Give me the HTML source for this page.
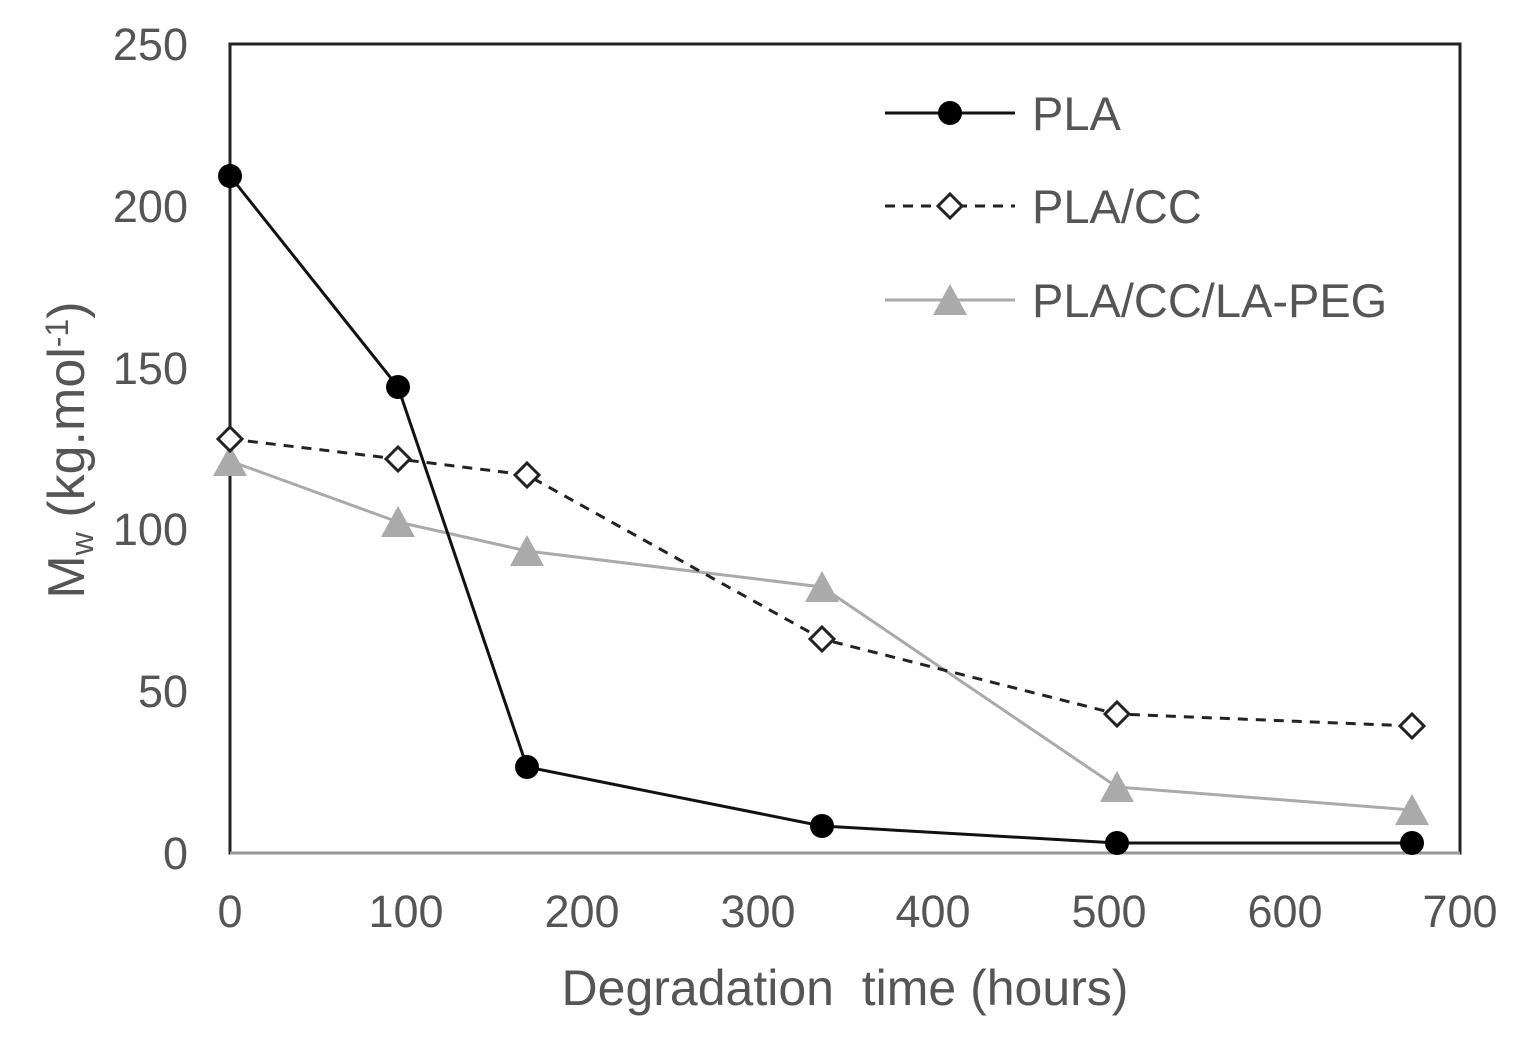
<!DOCTYPE html>
<html><head><meta charset="utf-8"><style>
html,body{margin:0;padding:0;background:#fff;}
svg{display:block;}
text{font-family:"Liberation Sans",sans-serif;fill:#555;}
</style></head><body>
<svg width="1524" height="1040" viewBox="0 0 1524 1040" xmlns="http://www.w3.org/2000/svg">
<rect x="230" y="44" width="1230" height="809" fill="none" stroke="#222" stroke-width="3"/>
<line x1="230" y1="853" x2="1460" y2="853" stroke="#999" stroke-width="3"/>
<g font-size="45" text-anchor="end">
<text x="188" y="60">250</text>
<text x="188" y="222">200</text>
<text x="188" y="384">150</text>
<text x="188" y="545">100</text>
<text x="188" y="707">50</text>
<text x="188" y="869">0</text>
</g>
<g font-size="45" text-anchor="middle">
<text x="230" y="927">0</text>
<text x="406" y="927">100</text>
<text x="582" y="927">200</text>
<text x="758" y="927">300</text>
<text x="933" y="927">400</text>
<text x="1109" y="927">500</text>
<text x="1285" y="927">600</text>
<text x="1460" y="927">700</text>
</g>
<text x="845" y="1005" font-size="50" text-anchor="middle" xml:space="preserve" style="white-space:pre">Degradation  time (hours)</text>
<text transform="translate(84,450) rotate(-90)" font-size="52" text-anchor="middle">M<tspan font-size="32" dy="9">w</tspan><tspan dy="-9"> (kg.mol</tspan><tspan font-size="32" dy="-16">-1</tspan><tspan dy="16">)</tspan></text>
<polyline points="230,461 398,522 527,551 822,587 1117,787 1412,810" fill="none" stroke="#aaa" stroke-width="3"/>
<g fill="#aaa">
<polygon points="230,445 247,476 213,476"/><polygon points="398,506 415,537 381,537"/><polygon points="527,535 544,566 510,566"/><polygon points="822,571 839,602 805,602"/><polygon points="1117,771 1134,802 1100,802"/><polygon points="1412,794 1429,825 1395,825"/>
</g>
<polyline points="230,439 398,459 527,475 822,639 1117,714 1412,726" fill="none" stroke="#222" stroke-width="3" stroke-dasharray="10,8"/>
<g fill="#fff" stroke="#222" stroke-width="3">
<polygon points="230,427 242,439 230,451 218,439"/><polygon points="398,447 410,459 398,471 386,459"/><polygon points="527,463 539,475 527,487 515,475"/><polygon points="822,627 834,639 822,651 810,639"/><polygon points="1117,702 1129,714 1117,726 1105,714"/><polygon points="1412,714 1424,726 1412,738 1400,726"/>
</g>
<polyline points="230,176 398,387 527,767 822,826 1117,843 1412,843" fill="none" stroke="#111" stroke-width="3"/>
<g fill="#000">
<circle cx="230" cy="176" r="12"/><circle cx="398" cy="387" r="12"/><circle cx="527" cy="767" r="12"/><circle cx="822" cy="826" r="12"/><circle cx="1117" cy="843" r="12"/><circle cx="1412" cy="843" r="12"/>
</g>
<line x1="885" y1="113" x2="1015" y2="113" stroke="#111" stroke-width="3"/>
<circle cx="950" cy="113" r="12" fill="#000"/>
<text x="1032" y="130" font-size="47">PLA</text>
<line x1="885" y1="206" x2="1015" y2="206" stroke="#222" stroke-width="3" stroke-dasharray="10,8"/>
<polygon points="950,194 962,206 950,218 938,206" fill="#fff" stroke="#222" stroke-width="3"/>
<text x="1032" y="223" font-size="47">PLA/CC</text>
<line x1="885" y1="300" x2="1015" y2="300" stroke="#aaa" stroke-width="3"/>
<polygon points="950,284 967,315 933,315" fill="#aaa"/>
<text x="1032" y="317" font-size="47">PLA/CC/LA-PEG</text>
</svg>
</body></html>
